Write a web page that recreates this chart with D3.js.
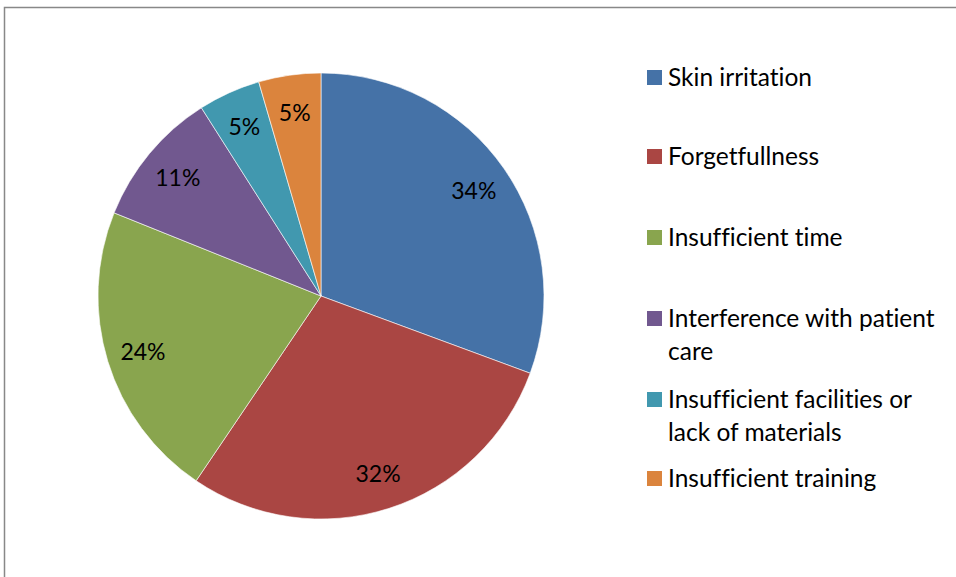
<!DOCTYPE html>
<html>
<head>
<meta charset="utf-8">
<script src="https://cdn.jsdelivr.net/npm/d3@7/dist/d3.min.js"></script>
<style>
  html, body { margin: 0; padding: 0; background: #fff; }
  svg { display: block; }
  text { font-family: Lato, "Open Sans", sans-serif; fill: #000; font-variant-ligatures: none; }
</style>
</head>
<body>
<svg id="chart" width="956" height="577"></svg>
<script>
// Reasons reported, percentage of respondents
const categories = [
  "Skin irritation",
  "Forgetfullness",
  "Insufficient time",
  "Interference with patient care",
  "Insufficient facilities or lack of materials",
  "Insufficient training"
];
const values = [34, 32, 24, 11, 5, 5];
const colors = ["#4572A7", "#AA4643", "#89A54E", "#71588F", "#4198AF", "#DB843D"];
// Legend labels split onto lines
const legendLines = [
  ["Skin irritation"],
  ["Forgetfullness"],
  ["Insufficient time"],
  ["Interference with patient", "care"],
  ["Insufficient facilities or", "lack of materials"],
  ["Insufficient training"]
];

const svg = d3.select("#chart");
const W = 956, H = 577;

// Chart area frame
svg.append("rect")
  .attr("x", 4.5).attr("y", 7.5)
  .attr("width", W + 20).attr("height", H + 20)
  .attr("fill", "#fff")
  .attr("stroke", "#888")
  .attr("stroke-width", 1.5);

const cx = 321, cy = 296, R = 223;

const data = categories.map((c, i) => ({ name: c, value: values[i], color: colors[i] }));
const pie = d3.pie().sort(null).value(d => d.value);
const arc = d3.arc().innerRadius(0).outerRadius(R);
const labelArc = d3.arc().innerRadius(R * 0.835).outerRadius(R * 0.835);

const g = svg.append("g").attr("transform", `translate(${cx},${cy})`);
const arcs = pie(data);

g.selectAll("path.slice")
  .data(arcs)
  .enter().append("path")
  .attr("class", "slice")
  .attr("d", arc)
  .attr("fill", d => d.data.color)
  .attr("stroke", "#fff")
  .attr("stroke-width", 0.6);

g.selectAll("text.pct")
  .data(arcs)
  .enter().append("text")
  .attr("class", "pct")
  .attr("transform", d => `translate(${labelArc.centroid(d)})`)
  .attr("text-anchor", "middle")
  .attr("dominant-baseline", "central")
  .attr("font-size", 23)
  .text(d => d.data.value + "%");

// Legend
const legendX = 647, lineH = 33;
const rowTops = [86, 165, 246, 327, 408, 487]; // baselines of first lines
const legend = svg.append("g");
legendLines.forEach((lines, i) => {
  const base = rowTops[i];
  legend.append("rect")
    .attr("x", legendX).attr("y", base - 16)
    .attr("width", 15).attr("height", 15)
    .attr("fill", colors[i]);
  lines.forEach((ln, j) => {
    legend.append("text")
      .attr("x", legendX + 21)
      .attr("y", base + j * lineH)
      .attr("font-size", 24.5)
      .text(ln);
  });
});
</script>
</body>
</html>
